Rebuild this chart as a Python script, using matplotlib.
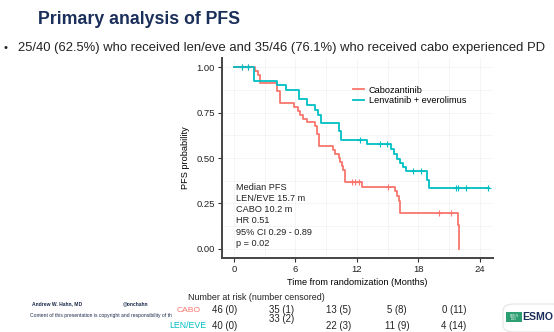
import matplotlib.pyplot as plt
from matplotlib.patches import FancyBboxPatch, Rectangle

# Kaplan-Meier step points (months, survival after each drop)
cabo_time = [0, 2.05, 2.3, 2.5, 4.2, 4.5, 5.9, 6.2, 6.4, 6.7, 7.1, 7.9, 8.1, 8.3,
             9.7, 9.9, 10.2, 10.3, 10.5, 10.6, 10.8, 12.5, 15.7, 15.9, 16.1, 16.2,
             21.9, 22.0]
cabo_surv = [1.0, 0.978, 0.957, 0.913, 0.87, 0.804, 0.783, 0.761, 0.739, 0.717,
             0.696, 0.674, 0.63, 0.565, 0.543, 0.521, 0.5, 0.478, 0.457, 0.435,
             0.37, 0.343, 0.316, 0.29, 0.263, 0.2, 0.13, 0.0]
cabo_cens_t = [0.8, 1.4, 11.5, 11.8, 12.2, 15.0, 20.0, 21.2]
cabo_cens_s = [1.0, 1.0, 0.37, 0.37, 0.37, 0.343, 0.2, 0.2]

lenv_time = [0, 2.0, 4.2, 5.1, 6.3, 7.1, 7.9, 8.2, 8.5, 10.2, 10.4, 13.0, 15.3,
             15.6, 15.9, 16.2, 16.5, 16.8, 18.8, 19.0, 24.9]
lenv_surv = [1.0, 0.925, 0.9, 0.875, 0.825, 0.79, 0.765, 0.735, 0.69, 0.65, 0.60,
             0.575, 0.55, 0.52, 0.495, 0.47, 0.45, 0.43, 0.38, 0.335, 0.335]
lenv_cens_t = [0.8, 1.4, 12.3, 14.2, 14.9, 17.5, 18.2, 21.7, 21.9, 22.6, 24.8]
lenv_cens_s = [1.0, 1.0, 0.6, 0.575, 0.575, 0.43, 0.43, 0.335, 0.335, 0.335, 0.335]

x_ticks = [0, 6, 12, 18, 24]
y_ticks = [0.0, 0.25, 0.5, 0.75, 1.0]
y_tick_labels = ["0.00", "0.25", "0.50", "0.75", "1.00"]

stats_lines = ["Median PFS", "LEN/EVE 15.7 m", "CABO 10.2 m", "HR 0.51",
               "95% CI 0.29 - 0.89", "p = 0.02"]

risk_cabo = ["46 (0)", "35 (1)", "13 (5)", "5 (8)", "0 (11)"]
risk_lenv = ["40 (0)", "33 (2)", "22 (3)", "11 (9)", "4 (14)"]

RED = "#F8766D"
TEAL = "#00BFC4"
NAVY = "#1B2F5B"
SANS = ["Liberation Sans", "DejaVu Sans"]

plt.rcParams["font.family"] = SANS

W, H = 554, 332
fig = plt.figure(figsize=(W / 100, H / 100), dpi=100)


def px(x, y):
    """pixel position (from top-left) to figure fraction"""
    return x / W, 1 - y / H


# slide header
fig.text(*px(38, 19), "Primary analysis of PFS", weight="bold",
         fontsize=12.8, color=NAVY, va="center", ha="left")
fig.text(*px(3, 48), "\u2022", fontsize=8, color="#222222", va="center")
fig.text(*px(18, 48),
         "25/40 (62.5%) who received len/eve and 35/46 (76.1%) who received cabo experienced PD",
         fontsize=9.4, color="#222222", va="center", ha="left")

# survival panel
ax = fig.add_axes([222 / W, 74 / H, (493 - 222) / W, 200 / H])
ax.step(cabo_time, cabo_surv, where="post", color=RED, lw=1.3, label="Cabozantinib")
ax.step(lenv_time, lenv_surv, where="post", color=TEAL, lw=1.3,
        label="Lenvatinib + everolimus")
ax.plot(cabo_cens_t, cabo_cens_s, ls="none", marker="+", ms=4, mew=0.8, color=RED)
ax.plot(lenv_cens_t, lenv_cens_s, ls="none", marker="+", ms=4, mew=0.8, color=TEAL)

ax.set_xlim(-1.17, 25.27)
ax.set_ylim(-0.05, 1.05)
ax.set_xticks(x_ticks)
ax.set_yticks(y_ticks)
ax.set_yticklabels(y_tick_labels)
ax.tick_params(labelsize=6.8, length=3, width=0.8, color="#333333",
               labelcolor="#222222", pad=2)
ax.set_xticks([3, 9, 15, 21], minor=True)
ax.set_yticks([0.125, 0.375, 0.625, 0.875], minor=True)
ax.tick_params(which="minor", length=0)
ax.grid(True, which="both", color="#f1f1f1", lw=0.5)
ax.set_axisbelow(True)
for side in ("top", "right"):
    ax.spines[side].set_visible(False)
for side in ("left", "bottom"):
    ax.spines[side].set_linewidth(1.4)
    ax.spines[side].set_color("#444444")

ax.set_xlabel("Time from randomization (Months)", fontsize=6.6, labelpad=3)
ax.set_ylabel("PFS probability", fontsize=6.6, labelpad=5)

leg = ax.legend(loc="upper left", bbox_to_anchor=(0.47, 0.88), frameon=False,
                fontsize=6.6, handlelength=1.2, handletextpad=0.5,
                labelspacing=0.15, borderaxespad=0)

ax.text(0.2, 0.365, "\n".join(stats_lines), fontsize=6.6, va="top", ha="left",
        linespacing=1.32, color="#222222")

# number at risk table
fig.text(*px(188, 297), "Number at risk (number censored)", fontsize=6.4,
         color="#222222", va="center", ha="left")
fig.text(*px(201, 310), "CABO", fontsize=6.1, color=RED,
         va="center", ha="right")
fig.text(*px(206, 326), "LEN/EVE", fontsize=6.3, color=TEAL,
         va="center", ha="right")
risk_x = [225, 282, 339, 397, 454]
lenv_y = [326, 319, 326, 326, 326]
for xi, lab in zip(risk_x, risk_cabo):
    fig.text(*px(xi, 310), lab, fontsize=6.9, color="#222222", va="center", ha="center")
for xi, yi, lab in zip(risk_x, lenv_y, risk_lenv):
    fig.text(*px(xi, yi), lab, fontsize=6.9, color="#222222", va="center", ha="center")

# footer
fig.text(*px(32, 304), "Andrew W. Hahn, MD", weight="bold",
         fontsize=3.6, color="#1a2a4a", va="center")
fig.text(*px(123, 304), "@onchahn", weight="bold",
         fontsize=3.6, color="#1a2a4a", va="center")
fig.text(*px(30, 315), "Content of this presentation is copyright and responsibility of th",
         fontsize=3.6, color="#1a2a4a", va="center")

# congress logo
fig.patches.append(FancyBboxPatch(px(503, 332), 60 / W, 28 / H,
                                  boxstyle="round,pad=0,rounding_size=0.02",
                                  transform=fig.transFigure, fc="white",
                                  ec="#e4e4e4", lw=0.8))
fig.patches.append(Rectangle(px(506, 322), 16 / W, 10 / H,
                             transform=fig.transFigure, fc="#2E9E73", ec="none"))
fig.text(*px(514, 316), "BERLIN", fontsize=1.8, color="white",
         ha="center", va="center")
fig.text(*px(514, 319.5), "2023", fontsize=1.8, color="white",
         ha="center", va="center")
fig.text(*px(522, 317), "ESMO", weight="bold", fontsize=7.6,
         color=NAVY, ha="left", va="center")

fig.savefig("out.png", dpi=100)
